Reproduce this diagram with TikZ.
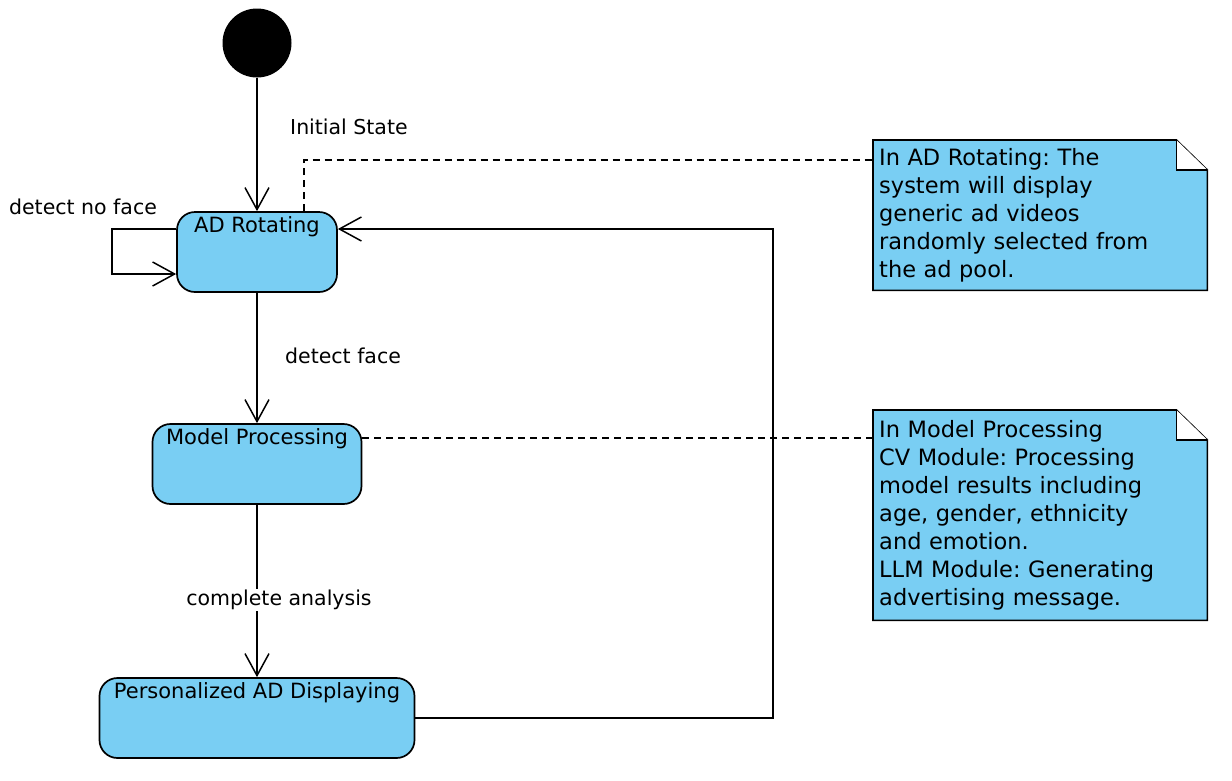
\documentclass[tikz,border=0pt]{standalone}
\usepackage{fontspec}
\setmainfont{DejaVu Sans}
\usepackage{tikz}
\usetikzlibrary{arrows.meta,backgrounds}
\definecolor{stateblue}{RGB}{121,206,243}
\frenchspacing

\begin{document}
\begin{tikzpicture}[x=1pt,y=-1pt,
	state/.style={draw=black,fill=stateblue,rounded corners=18pt,line width=1.7pt,
		inner xsep=0pt,inner ysep=3pt,text height=17pt,text depth=57pt,
		font=\fontsize{21}{24}\selectfont},
	lbl/.style={font=\fontsize{20.5}{24}\selectfont,inner sep=1pt},
	note/.style={anchor=north west,inner xsep=6pt,inner ysep=0pt,align=left,
		text width=322pt,minimum width=334pt,font=\fontsize{22.5}{28}\selectfont},
	trans/.style={line width=1.5pt,-{Straight Barb[length=22pt,width=24pt]}},
	link/.style={line width=1.5pt,dash pattern=on 7pt off 5pt}]
	\useasboundingbox (0,0) rectangle (1232,780);
	%% the states
	\node[circle,fill=black,minimum size=69pt,inner sep=0pt] (init) at (257,43) {};
	\node[state,minimum width=160pt] (rot) at (257,252) {AD Rotating};
	\node[state,minimum width=209pt] (proc) at (257,464) {Model Processing};
	\node[state,minimum width=315pt] (pers) at (257,718) {Personalized AD Displaying};
	%% the notes
	\node[note,minimum height=150pt] (noteA) at (873,140) {In AD Rotating: The\\system will display\\generic ad videos\\randomly selected from\\the ad pool.};
	\node[note,minimum height=210pt] (noteB) at (873,410) {In Model Processing\\CV Module: Processing\\model results including\\age, gender, ethnicity\\and emotion.\\LLM Module: Generating\\advertising message.};
	\begin{scope}[on background layer]
		\foreach \n in {noteA,noteB}{
			\draw[line width=1.6pt,fill=stateblue] (\n.north west) -- ([xshift=-31pt]\n.north east)
				-- ([yshift=-30pt]\n.north east) -- (\n.south east) -- (\n.south west) -- cycle;
			\draw[line width=1.6pt,fill=white] ([xshift=-31pt]\n.north east)
				-- ([xshift=-31pt,yshift=-30pt]\n.north east) -- ([yshift=-30pt]\n.north east);
		}
	\end{scope}
	%% the transitions
	\draw[trans] (init.south) -- (rot.north);
	\draw[trans] ([yshift=23pt]rot.west) -- ++(-64,0) -- ++(0,45) -- ([yshift=-22pt]rot.west);
	\draw[trans] (rot.south) -- (proc.north);
	\draw[trans] (proc.south) -- (pers.north);
	\coordinate (back) at (773,229);
	\draw[trans] (pers.east) -| (back) -- ([yshift=23pt]rot.east);
	%% the note links
	\draw[link] ([xshift=-34pt]rot.north east) |- ([yshift=-20pt]noteA.north west);
	\draw[link] ([yshift=26pt]proc.east) -- ([yshift=-28pt]noteB.north west);
	%% the labels
	\node[lbl,anchor=west] (lInit) at (289,127) {Initial State};
	\node[lbl] (lNoFace) at (83,207) {detect no face};
	\node[lbl,anchor=west] (lFace) at (284,356) {detect face};
	\node[lbl,fill=white] (lDone) at (279,600) {complete analysis};
\end{tikzpicture}
\end{document}
